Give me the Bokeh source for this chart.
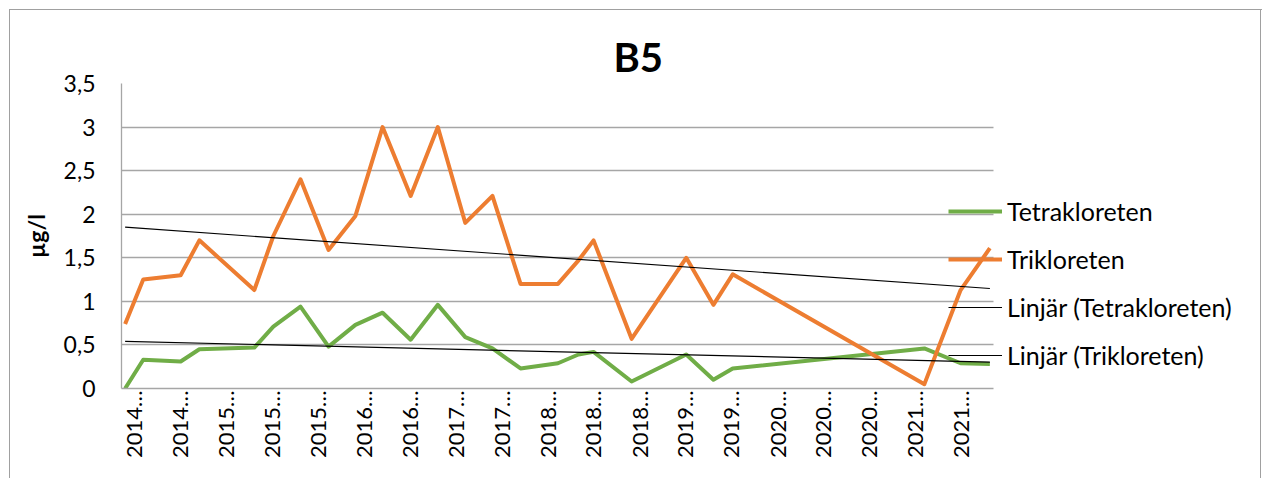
import numpy as np
import pandas as pd
from math import pi
from bokeh.plotting import figure
from bokeh.models import Range1d, FixedTicker, Legend, LegendItem
from bokeh.embed import file_html
from bokeh.resources import INLINE

# ---- data ----
dates = ["2014-03-04", "2014-05-03", "2014-09-04", "2014-11-05", "2015-05-06",
         "2015-07-08", "2015-10-06", "2016-01-07", "2016-04-05", "2016-07-04",
         "2016-10-05", "2017-01-03", "2017-04-04", "2017-07-03", "2017-10-04",
         "2018-02-05", "2018-04-14", "2018-06-03", "2018-10-07", "2019-04-06",
         "2019-07-05", "2019-09-07", "2021-06-03", "2021-10-01", "2022-01-06"]
tetrakloreten = [0.00, 0.33, 0.31, 0.45, 0.47, 0.71, 0.94, 0.48, 0.73, 0.87,
                 0.56, 0.96, 0.59, 0.46, 0.23, 0.29, 0.39, 0.42, 0.08, 0.39,
                 0.10, 0.23, 0.46, 0.29, 0.28]
trikloreten = [0.74, 1.25, 1.30, 1.70, 1.13, 1.75, 2.40, 1.59, 1.98, 3.00,
               2.21, 3.00, 1.90, 2.21, 1.20, 1.20, 1.47, 1.70, 0.57, 1.50,
               0.96, 1.31, 0.05, 1.13, 1.61]
tick_dates = ["2014-04-01", "2014-09-01", "2015-02-01", "2015-07-01", "2015-12-01",
              "2016-05-01", "2016-10-01", "2017-03-01", "2017-08-01", "2018-01-01",
              "2018-06-01", "2018-11-01", "2019-04-01", "2019-09-01", "2020-02-01",
              "2020-07-01", "2020-12-01", "2021-05-01", "2021-10-01"]
tick_labels = ["2014…", "2014…", "2015…", "2015…", "2015…", "2016…", "2016…",
               "2017…", "2017…", "2018…", "2018…", "2018…", "2019…", "2019…",
               "2020…", "2020…", "2020…", "2021…", "2021…"]
y_ticks = [0, 0.5, 1, 1.5, 2, 2.5, 3, 3.5]
y_labels = ["0", "0,5", "1", "1,5", "2", "2,5", "3", "3,5"]
names = ["Tetrakloreten", "Trikloreten", "Linjär (Tetrakloreten)", "Linjär (Trikloreten)"]
axis_start, axis_end = "2014-02-20", "2022-01-18"

FONT = "Lato"
GREEN = "#70AD47"
ORANGE = "#ED7D31"
GRID = "#A6A6A6"
FRAME = "#A0A0A0"

W, H = 1262, 478
LEFT, RIGHT_EDGE, TOP, BOTTOM = 121, 993, 83, 388   # plot-area edges in px
FRAME_RIGHT = 1254                                   # frame extends under legend

def ms(s):
    return float(pd.Timestamp(s).value // 10**6)

x = pd.to_datetime(dates)
xms = np.array([ms(d) for d in dates])
tick_ms = [ms(d) for d in tick_dates]
x0, x1 = ms(axis_start), ms(axis_end)
# extend the frame past the plot area so the legend is not clipped
x_frame_end = x0 + (x1 - x0) * (FRAME_RIGHT - LEFT) / (RIGHT_EDGE - LEFT)

p = figure(width=W, height=H, x_axis_type="datetime",
           x_range=Range1d(x0, x_frame_end),
           y_range=Range1d(0, 3.5),
           output_backend="svg", toolbar_location=None,
           min_border_left=LEFT, min_border_right=W - FRAME_RIGHT,
           min_border_top=TOP, min_border_bottom=H - BOTTOM)
p.outline_line_color = None
p.background_fill_alpha = 0
p.border_fill_alpha = 0
p.styles = {
    "background": (
        f"linear-gradient({FRAME},{FRAME}) 9px 9px / 1px 100% no-repeat, "
        f"linear-gradient({FRAME},{FRAME}) 9px 9px / 100% 1px no-repeat, "
        f"linear-gradient({FRAME},{FRAME}) 1260px 9px / 1px 100% no-repeat, white"
    )
}

# title
p.title.text = "B5"
p.title.align = "left"
p.title.offset = 492
p.title.text_font = FONT
p.title.text_font_style = "bold"
p.title.text_font_size = "40px"
p.title.text_color = "black"
p.title.standoff = 5

# axes
p.xaxis.ticker = FixedTicker(ticks=tick_ms)
p.xaxis.major_label_overrides = {t: l for t, l in zip(tick_ms, tick_labels)}
p.xaxis.major_label_orientation = pi / 2
p.xaxis.bounds = (x0, x1)
p.xaxis.major_tick_line_color = None
p.xaxis.minor_tick_line_color = None
p.xaxis.major_tick_out = 0
p.xaxis.minor_tick_out = 0
p.xaxis.axis_line_color = GRID
p.xaxis.axis_line_width = 1.3
p.xaxis.major_label_text_font = FONT
p.xaxis.major_label_text_font_size = "22px"
p.xaxis.major_label_text_color = "black"
p.xaxis.major_label_standoff = 2

p.yaxis.ticker = FixedTicker(ticks=y_ticks)
p.yaxis.major_label_overrides = {float(t): l for t, l in zip(y_ticks, y_labels)}
p.yaxis.major_tick_line_color = None
p.yaxis.minor_tick_line_color = None
p.yaxis.major_tick_out = 0
p.yaxis.minor_tick_out = 0
p.yaxis.axis_line_color = GRID
p.yaxis.axis_line_width = 1.3
p.yaxis.major_label_text_font = FONT
p.yaxis.major_label_text_font_size = "23px"
p.yaxis.major_label_text_color = "black"
p.yaxis.major_label_standoff = 26
p.yaxis.axis_label = "µg/l"
p.yaxis.axis_label_text_font = FONT
p.yaxis.axis_label_text_font_style = "bold"
p.yaxis.axis_label_text_font_size = "23px"
p.yaxis.axis_label_text_color = "black"
p.yaxis.axis_label_standoff = 11

p.xgrid.grid_line_color = None
p.ygrid.grid_line_color = GRID
p.ygrid.grid_line_width = 1.3
p.ygrid.cross_bounds = (x0, x1)

# series
r_g = p.line(x, tetrakloreten, line_color=GREEN, line_width=4, line_join="round")
r_o = p.line(x, trikloreten, line_color=ORANGE, line_width=4, line_join="round")

# linear trendlines (least squares over dates)
cg = np.polyfit(xms, tetrakloreten, 1)
co = np.polyfit(xms, trikloreten, 1)
xe = [x[0], x[-1]]
xe_ms = np.array([xms[0], xms[-1]])
r_tg = p.line(xe, list(np.polyval(cg, xe_ms)), line_color="black", line_width=1.2)
r_to = p.line(xe, list(np.polyval(co, xe_ms)), line_color="black", line_width=1.2)

legend = Legend(items=[LegendItem(label=names[0], renderers=[r_g]),
                       LegendItem(label=names[1], renderers=[r_o]),
                       LegendItem(label=names[2], renderers=[r_tg]),
                       LegendItem(label=names[3], renderers=[r_to])],
                location=(948 - LEFT, 18), orientation="vertical",
                background_fill_alpha=0, border_line_color=None,
                glyph_width=54, glyph_height=30, label_height=30,
                spacing=18, padding=0, margin=0, label_standoff=5,
                label_text_font=FONT, label_text_font_size="25px",
                label_text_color="black")
p.add_layout(legend)

open("out.html", "w").write(file_html(p, INLINE))
